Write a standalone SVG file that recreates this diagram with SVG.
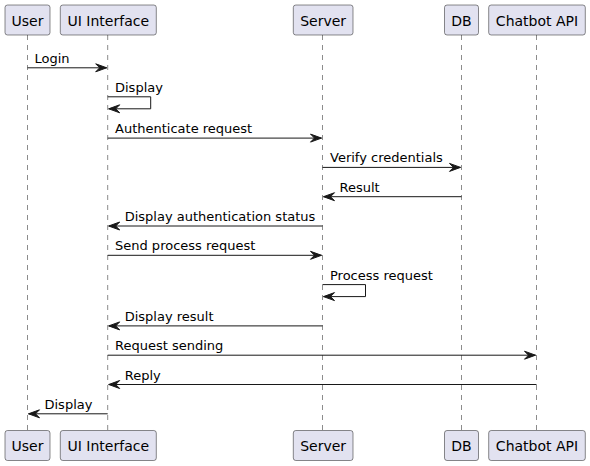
<svg xmlns="http://www.w3.org/2000/svg" width="590" height="466" viewBox="0 0 590 466">
<style>
.box{fill:#E2E2F0;stroke:#181818;stroke-width:0.5}
.pt{font-family:"DejaVu Sans","Liberation Sans",sans-serif;font-size:14px;fill:#000;text-anchor:middle}
.life{stroke:#181818;stroke-width:0.5;stroke-dasharray:5,5;fill:none}
.msg{stroke:#181818;stroke-width:1;fill:none}
.head{fill:#181818;stroke:#181818;stroke-width:1}
.mt{font-family:"DejaVu Sans","Liberation Sans",sans-serif;font-size:13px;fill:#000}
</style>
<rect width="590" height="466" fill="#FFFFFF"/>
<g id="lifelines">
<line class="life" x1="27.5" y1="35" x2="27.5" y2="430.5"/>
<line class="life" x1="107.7" y1="35" x2="107.7" y2="430.5"/>
<line class="life" x1="322.5" y1="35" x2="322.5" y2="430.5"/>
<line class="life" x1="461.5" y1="35" x2="461.5" y2="430.5"/>
<line class="life" x1="536.5" y1="35" x2="536.5" y2="430.5"/>
</g>
<g id="user">
<rect class="box" x="5" y="5" width="45" height="30" rx="2.5"/>
<text class="pt" x="27.5" y="25.5">User</text>
<rect class="box" x="5" y="430.5" width="45" height="30" rx="2.5"/>
<text class="pt" x="27.5" y="451">User</text>
</g>
<g id="ui">
<rect class="box" x="60.3" y="5" width="96" height="30" rx="2.5"/>
<text class="pt" x="108.3" y="25.5">UI Interface</text>
<rect class="box" x="60.3" y="430.5" width="96" height="30" rx="2.5"/>
<text class="pt" x="108.3" y="451">UI Interface</text>
</g>
<g id="server">
<rect class="box" x="293.3" y="5" width="59.7" height="30" rx="2.5"/>
<text class="pt" x="323.1" y="25.5">Server</text>
<rect class="box" x="293.3" y="430.5" width="59.7" height="30" rx="2.5"/>
<text class="pt" x="323.1" y="451">Server</text>
</g>
<g id="db">
<rect class="box" x="444.5" y="5" width="34" height="30" rx="2.5"/>
<text class="pt" x="461.5" y="25.5">DB</text>
<rect class="box" x="444.5" y="430.5" width="34" height="30" rx="2.5"/>
<text class="pt" x="461.5" y="451">DB</text>
</g>
<g id="chatbot">
<rect class="box" x="488.7" y="5" width="96.6" height="30" rx="2.5"/>
<text class="pt" x="537" y="25.5">Chatbot API</text>
<rect class="box" x="488.7" y="430.5" width="96.6" height="30" rx="2.5"/>
<text class="pt" x="537" y="451">Chatbot API</text>
</g>
<g id="connectors">
<!-- Login -->
<line class="msg" x1="27.5" y1="67.8" x2="106.7" y2="67.8"/>
<polygon class="head" points="95.7,63.8 106.7,67.8 95.7,71.8 99.7,67.8"/>
<text class="mt" x="34.5" y="62.8">Login</text>
<!-- Display self -->
<polyline class="msg" points="107.7,96.8 150.7,96.8 150.7,108.8 108.7,108.8"/>
<polygon class="head" points="119.7,104.8 108.7,108.8 119.7,112.8 115.7,108.8"/>
<text class="mt" x="115" y="91.8">Display</text>
<!-- Authenticate request -->
<line class="msg" x1="107.7" y1="138.1" x2="321.5" y2="138.1"/>
<polygon class="head" points="310.5,134.1 321.5,138.1 310.5,142.1 314.5,138.1"/>
<text class="mt" x="115" y="133.1">Authenticate request</text>
<!-- Verify credentials -->
<line class="msg" x1="322.5" y1="167.4" x2="460.5" y2="167.4"/>
<polygon class="head" points="449.5,163.4 460.5,167.4 449.5,171.4 453.5,167.4"/>
<text class="mt" x="330" y="162.4">Verify credentials</text>
<!-- Result -->
<line class="msg" x1="323.5" y1="196.7" x2="461.5" y2="196.7"/>
<polygon class="head" points="334.5,192.7 323.5,196.7 334.5,200.7 330.5,196.7"/>
<text class="mt" x="339.5" y="191.7">Result</text>
<!-- Display authentication status -->
<line class="msg" x1="108.7" y1="226" x2="322.5" y2="226"/>
<polygon class="head" points="119.7,222 108.7,226 119.7,230 115.7,226"/>
<text class="mt" x="124.7" y="221">Display authentication status</text>
<!-- Send process request -->
<line class="msg" x1="107.7" y1="255.3" x2="321.5" y2="255.3"/>
<polygon class="head" points="310.5,251.3 321.5,255.3 310.5,259.3 314.5,255.3"/>
<text class="mt" x="115" y="250.3">Send process request</text>
<!-- Process request self -->
<polyline class="msg" points="322.5,284.6 365.5,284.6 365.5,296.6 323.5,296.6"/>
<polygon class="head" points="334.5,292.6 323.5,296.6 334.5,300.6 330.5,296.6"/>
<text class="mt" x="330" y="279.6">Process request</text>
<!-- Display result -->
<line class="msg" x1="108.7" y1="325.9" x2="322.5" y2="325.9"/>
<polygon class="head" points="119.7,321.9 108.7,325.9 119.7,329.9 115.7,325.9"/>
<text class="mt" x="124.7" y="320.9">Display result</text>
<!-- Request sending -->
<line class="msg" x1="107.7" y1="355.2" x2="535.5" y2="355.2"/>
<polygon class="head" points="524.5,351.2 535.5,355.2 524.5,359.2 528.5,355.2"/>
<text class="mt" x="115" y="350.2">Request sending</text>
<!-- Reply -->
<line class="msg" x1="108.7" y1="384.5" x2="536.5" y2="384.5"/>
<polygon class="head" points="119.7,380.5 108.7,384.5 119.7,388.5 115.7,384.5"/>
<text class="mt" x="124.7" y="379.5">Reply</text>
<!-- Display -->
<line class="msg" x1="28.5" y1="413.8" x2="107.7" y2="413.8"/>
<polygon class="head" points="39.5,409.8 28.5,413.8 39.5,417.8 35.5,413.8"/>
<text class="mt" x="44.5" y="408.8">Display</text>
</g>
</svg>
